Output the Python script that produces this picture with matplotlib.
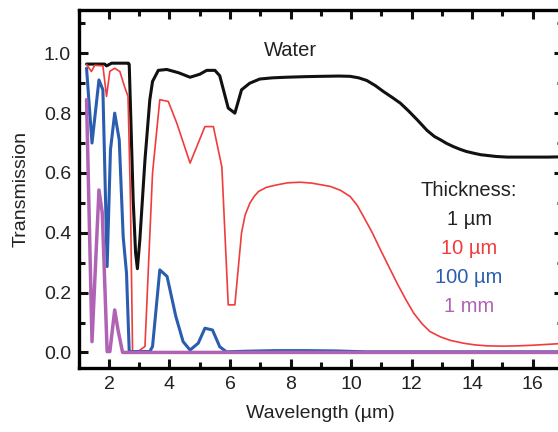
import matplotlib
matplotlib.use("Agg")
import matplotlib.pyplot as plt
from matplotlib.ticker import MultipleLocator

plt.rcParams['font.family'] = ['Liberation Sans', 'DejaVu Sans']

# Transmission of liquid water films vs wavelength (µm)
x_1um = [1.26, 1.86, 1.92, 2.09, 2.64, 2.67, 2.72, 2.80, 2.88, 2.94, 3.02, 3.19, 3.35,
         3.44, 3.63, 3.91, 4.30, 4.68, 5.00, 5.23, 5.50, 5.66, 5.94, 6.16, 6.38, 6.65,
         6.98, 7.40, 7.85, 8.50, 9.00, 9.60, 9.97, 10.25, 10.52, 10.80, 11.07, 11.35,
         11.63, 11.90, 12.18, 12.51, 12.75, 12.95, 13.15, 13.38, 13.60, 13.80, 14.05,
         14.28, 14.80, 15.16, 16.00, 16.50, 17.00]
t_1um = [0.964, 0.964, 0.958, 0.967, 0.967, 0.963, 0.789, 0.510, 0.333, 0.280, 0.376,
         0.644, 0.845, 0.906, 0.943, 0.946, 0.935, 0.920, 0.930, 0.943, 0.943, 0.925,
         0.817, 0.800, 0.878, 0.900, 0.914, 0.918, 0.920, 0.922, 0.923, 0.924, 0.923,
         0.918, 0.909, 0.892, 0.872, 0.853, 0.833, 0.807, 0.778, 0.742, 0.722, 0.711,
         0.699, 0.688, 0.679, 0.672, 0.666, 0.661, 0.655, 0.653, 0.653, 0.653, 0.654]

x_10um = [1.26, 1.42, 1.53, 1.80, 1.92, 2.03, 2.19, 2.36, 2.53, 2.63, 2.71, 2.78, 2.96,
          3.19, 3.44, 3.68, 3.96, 4.24, 4.68, 5.17, 5.45, 5.73, 5.94, 6.16, 6.38, 6.50,
          6.66, 6.80, 6.94, 7.20, 7.54, 7.90, 8.32, 8.70, 8.98, 9.31, 9.65, 9.97, 10.20,
          10.41, 10.70, 10.97, 11.25, 11.52, 11.80, 12.07, 12.35, 12.60, 12.95, 13.29,
          13.70, 14.10, 14.50, 15.00, 15.50, 16.00, 16.50, 17.00]
t_10um = [0.963, 0.939, 0.960, 0.958, 0.856, 0.940, 0.950, 0.939, 0.884, 0.856, 0.510,
          0.003, 0.003, 0.020, 0.600, 0.845, 0.839, 0.767, 0.633, 0.755, 0.755, 0.620,
          0.159, 0.159, 0.400, 0.460, 0.500, 0.522, 0.538, 0.552, 0.560, 0.567, 0.569,
          0.566, 0.561, 0.555, 0.542, 0.521, 0.492, 0.454, 0.400, 0.343, 0.286, 0.231,
          0.178, 0.131, 0.095, 0.070, 0.052, 0.040, 0.031, 0.025, 0.022, 0.021, 0.022,
          0.024, 0.027, 0.030]

x_100um = [1.26, 1.44, 1.67, 1.80, 1.94, 2.05, 2.19, 2.34, 2.47, 2.58, 2.67, 3.35, 3.44,
           3.68, 3.92, 4.21, 4.45, 4.68, 4.95, 5.17, 5.42, 5.66, 5.88, 6.50, 7.50, 8.50,
           9.50, 10.50, 17.00]
t_100um = [0.950, 0.700, 0.911, 0.878, 0.287, 0.677, 0.800, 0.710, 0.387, 0.265, 0.003,
           0.003, 0.020, 0.276, 0.254, 0.120, 0.036, 0.008, 0.031, 0.081, 0.075, 0.019,
           0.002, 0.004, 0.006, 0.006, 0.005, 0.002, 0.002]

x_1mm = [1.26, 1.44, 1.67, 1.78, 1.94, 2.03, 2.19, 2.30, 2.45, 17.00]
t_1mm = [0.845, 0.036, 0.543, 0.466, 0.003, 0.003, 0.142, 0.075, 0.000, 0.000]

thickness_labels = ["1 µm", "10 µm", "100 µm", "1 mm"]
colors = ["#111111", "#f03c3c", "#2a5db0", "#b062b4"]
widths = [2.2, 1.2, 2.2, 2.5]

fig = plt.figure(figsize=(5.58, 4.32), dpi=100)
ax = fig.add_axes([0.141, 0.1475, 0.868, 0.8295])

series = [(x_1um, t_1um), (x_10um, t_10um), (x_100um, t_100um), (x_1mm, t_1mm)]
for (xs, ys), c, lw in zip(series, colors, widths):
    ax.plot(xs, ys, color=c, lw=lw, solid_joinstyle='round', solid_capstyle='round')

ax.set_xlim(1.0, 17.0)
ax.set_ylim(-0.053, 1.145)
ax.xaxis.set_major_locator(MultipleLocator(2))
ax.xaxis.set_minor_locator(MultipleLocator(1))
ax.yaxis.set_major_locator(MultipleLocator(0.2))
ax.yaxis.set_minor_locator(MultipleLocator(0.1))
ax.set_yticks([0.0, 0.2, 0.4, 0.6, 0.8, 1.0])
ax.set_yticklabels(["0.0", "0.2", "0.4", "0.6", "0.8", "1.0"])
ax.set_xticks(range(2, 17, 2))

for s in ax.spines.values():
    s.set_linewidth(2.4)
ax.tick_params(which='both', direction='in', top=True, right=True,
               width=2.2, labelsize=14, colors='#111111', labelcolor='#222222')
ax.tick_params(which='major', length=6.5, pad=5.5)
ax.tick_params(which='minor', length=4.3)

ax.set_xlabel("Wavelength (µm)", fontsize=14, color='#222222', labelpad=9)
ax.set_ylabel("Transmission", fontsize=14, color='#222222', labelpad=10)

ax.text(8.0, 1.01, "Water", fontsize=14.5, color='#222222', ha='center', va='center')
ax.text(13.9, 0.54, "Thickness:", fontsize=14.5, color='#222222', ha='center', va='center')
for i, (lab, c) in enumerate(zip(thickness_labels, colors)):
    ax.text(13.9, 0.443 - i * 0.097, lab, fontsize=14.5,
            color=c if i else '#222222', ha='center', va='center')

fig.savefig("out.png", dpi=100)
